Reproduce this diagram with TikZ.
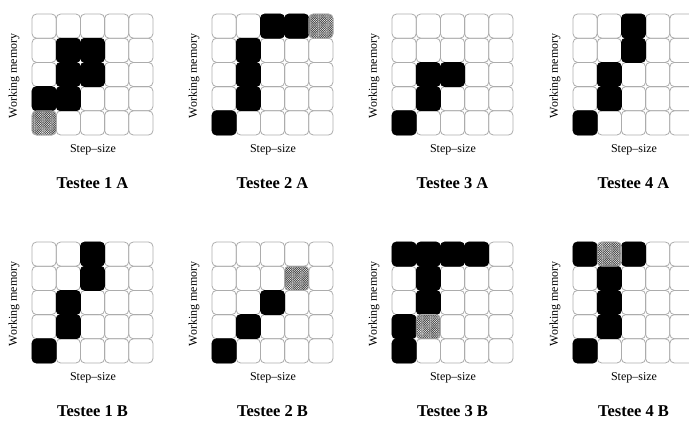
\documentclass[tikz,border=0pt]{standalone}
\usepackage{fontspec}
\setmainfont{Liberation Serif}
\usetikzlibrary{patterns.meta}
\def\cellsz{24.2}
\tikzset{
  cellbox/.style={draw=gray!65, line width=0.8pt, rounded corners=4.5pt},
  blackcell/.style={cellbox, draw=black, fill=black},
  hatchcell/.style={cellbox, pattern={Hatch[distance=1.6pt,angle=45,line width=0.5pt]}, pattern color=black!70},
  ylab/.style={rotate=90, inner sep=0pt, font=\fontsize{12}{12}\selectfont},
  xlab/.style={inner sep=0pt, font=\fontsize{12}{12}\selectfont},
  ttl/.style={inner sep=0pt, font=\bfseries\fontsize{16.5}{16.5}\selectfont},
}
\newcommand\panelgrid[4]{%
  \foreach \c in {0,...,4}{\foreach \r in {0,...,4}{%
    \draw[cellbox] ({#1+\c*\cellsz},{#2+\r*\cellsz}) rectangle ++(\cellsz,\cellsz);}}
  \node[ylab] (wm#3) at ({#1-18},{#2+62}) {Working memory};
  \node[xlab] (ss#3) at ({#1+61},{#2+136}) {Step--size};
  \node[ttl] (t#3) at ({#1+60.5},{#2+169}) {#4};
}
\newcommand\blackcells[3]{%
  \foreach \c/\r in {#3}{%
    \draw[blackcell] ({#1+(\c-1)*\cellsz},{#2+(\r-1)*\cellsz}) rectangle ++(\cellsz,\cellsz);}}
\newcommand\hatchcells[3]{%
  \foreach \c/\r in {#3}{%
    \draw[hatchcell] ({#1+(\c-1)*\cellsz},{#2+(\r-1)*\cellsz}) rectangle ++(\cellsz,\cellsz);}}
\begin{document}
\begin{tikzpicture}[x=1pt,y=-1pt]
\useasboundingbox (0,0) rectangle (689,421);
\clip (0,0) rectangle (689,421);
% top row
\panelgrid{32}{14}{oneA}{Testee 1 A}
\blackcells{32}{14}{2/2,3/2,2/3,3/3,1/4,2/4}
\hatchcells{32}{14}{1/5}
\panelgrid{212}{14}{twoA}{Testee 2 A}
\blackcells{212}{14}{3/1,4/1,2/2,2/3,2/4,1/5}
\hatchcells{212}{14}{5/1}
\panelgrid{392}{14}{threeA}{Testee 3 A}
\blackcells{392}{14}{2/3,3/3,2/4,1/5}
\panelgrid{573}{14}{fourA}{Testee 4 A}
\blackcells{573}{14}{3/1,3/2,2/3,2/4,1/5}
% bottom row
\panelgrid{32}{242}{oneB}{Testee 1 B}
\blackcells{32}{242}{3/1,3/2,2/3,2/4,1/5}
\panelgrid{212}{242}{twoB}{Testee 2 B}
\blackcells{212}{242}{3/3,2/4,1/5}
\hatchcells{212}{242}{4/2}
\panelgrid{392}{242}{threeB}{Testee 3 B}
\blackcells{392}{242}{1/1,2/1,3/1,4/1,2/2,2/3,1/4,1/5}
\hatchcells{392}{242}{2/4}
\panelgrid{573}{242}{fourB}{Testee 4 B}
\blackcells{573}{242}{1/1,3/1,2/2,2/3,2/4,1/5}
\hatchcells{573}{242}{2/1}
\end{tikzpicture}
\end{document}
